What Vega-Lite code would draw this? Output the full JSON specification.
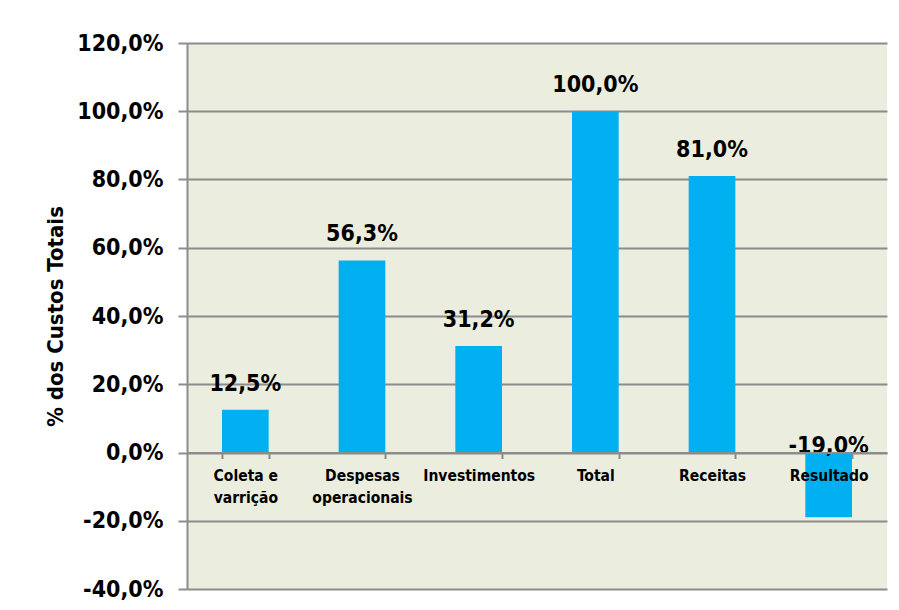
{
  "$schema": "https://vega.github.io/schema/vega-lite/v6.json",
  "width": 700,
  "height": 546,
  "autosize": {"type": "none"},
  "padding": {"left": 187, "top": 43, "right": 12, "bottom": 21},
  "background": "white",
  "config": {
    "locale": {"number": {"decimal": ",", "thousands": ".", "grouping": [3], "currency": ["R$", ""], "minus": "-"}},
    "font": "DejaVu Sans Condensed, Roboto, sans-serif",
    "view": {"fill": "#EBEEDF", "stroke": null},
    "axis": {"labelFont": "DejaVu Sans Condensed, Roboto, sans-serif", "titleFont": "DejaVu Sans Condensed, Roboto, sans-serif"}
  },
  "data": {
    "values": [
      {"categoria": "Coleta e|varrição", "valor": 0.125},
      {"categoria": "Despesas|operacionais", "valor": 0.563},
      {"categoria": "Investimentos", "valor": 0.312},
      {"categoria": "Total", "valor": 1.0},
      {"categoria": "Receitas", "valor": 0.81},
      {"categoria": "Resultado", "valor": -0.19}
    ]
  },
  "encoding": {
    "x": {
      "field": "categoria",
      "type": "nominal",
      "sort": null,
      "scale": {"paddingInner": 0.6, "paddingOuter": 0.3},
      "axis": {
        "title": null,
        "offset": -136.5,
        "labelAngle": 0,
        "labelExpr": "split(datum.label, '|')",
        "labelFontSize": 15.5,
        "labelFontWeight": "bold",
        "labelColor": "black",
        "labelLineHeight": 22,
        "labelPadding": 10,
        "labelBaseline": "top",
        "tickBand": "extent",
        "tickColor": "#8c8c8c",
        "tickWidth": 2,
        "tickSize": 6,
        "domainColor": "#8c8c8c",
        "domainWidth": 2,
        "grid": false,
        "zindex": 1
      }
    }
  },
  "layer": [
    {
      "mark": {"type": "bar", "color": "#00B0F0"},
      "encoding": {
        "y": {
          "field": "valor",
          "type": "quantitative",
          "scale": {"domain": [-0.4, 1.2], "nice": false, "zero": false},
          "axis": {
            "title": "% dos Custos Totais",
            "titleFontSize": 22,
            "titleFontWeight": "bold",
            "titleColor": "black",
            "titlePadding": 9,
            "format": ".1%",
            "values": [-0.4, -0.2, 0, 0.2, 0.4, 0.6, 0.8, 1.0, 1.2],
            "labelFontSize": 23,
            "labelFontWeight": "bold",
            "labelColor": "black",
            "labelPadding": 15,
            "tickSize": 9,
            "tickColor": "#8c8c8c",
            "tickWidth": 2,
            "domainColor": "#8c8c8c",
            "domainWidth": 2,
            "gridColor": "#8c8c8c",
            "gridWidth": 2
          }
        }
      }
    },
    {
      "transform": [{"filter": "datum.valor >= 0"}],
      "mark": {"type": "text", "fontSize": 23, "fontWeight": "bold", "baseline": "alphabetic", "dy": -19, "color": "black"},
      "encoding": {
        "y": {"field": "valor", "type": "quantitative"},
        "text": {"field": "valor", "type": "quantitative", "format": ".1%"}
      }
    },
    {
      "transform": [{"filter": "datum.valor < 0"}],
      "mark": {"type": "text", "fontSize": 23, "fontWeight": "bold", "baseline": "alphabetic", "dy": 0, "color": "black"},
      "encoding": {
        "y": {"datum": 0},
        "text": {"field": "valor", "type": "quantitative", "format": ".1%"}
      }
    }
  ]
}
